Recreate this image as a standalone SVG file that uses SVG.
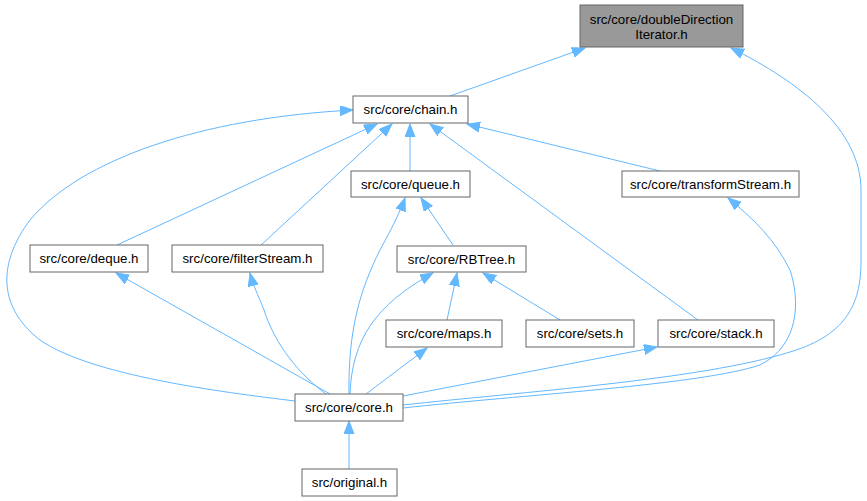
<svg xmlns="http://www.w3.org/2000/svg" width="867" height="501" viewBox="0 0 867 501">
<defs>
<style>
.n rect{fill:#ffffff;stroke:#666666;stroke-width:1}
.n.hl rect{fill:#999999}
.n text{font-family:"Liberation Sans",Arial,sans-serif;font-size:13.3px;fill:#000000;text-anchor:middle}
.e path{fill:none;stroke:#63b8ff;stroke-width:1;marker-end:url(#ah)}
</style>
<marker id="ah" markerUnits="userSpaceOnUse" markerWidth="14" markerHeight="12" refX="13" refY="5" orient="auto" viewBox="0 0 14 12">
<path d="M0,0 L13,5 L0,10 z" fill="#63b8ff" stroke="#63b8ff" stroke-width="1"/>
</marker>
</defs>
<rect width="867" height="501" fill="#ffffff"/>
<g id="edges" class="e">
<path d="M450,96 L585,48"/>
<path d="M403,405 C520,392 700,380 790,352 C850,334 861,300 861,260 L861,190 C861,130 800,82 731,48"/>
<path d="M295,401 C220,392 90,375 40,340 C-5,305 0,260 30,220 C80,160 200,118 353,110"/>
<path d="M117,245 L377,124"/>
<path d="M261,245 L392,124"/>
<path d="M410,171 L410,124"/>
<path d="M698,320 L430,124"/>
<path d="M660,171 L467,124"/>
<path d="M349,394 C348,330 360,290 380,250 C392,228 400,212 405,198"/>
<path d="M453,245 L421,198"/>
<path d="M330,394 L116,273"/>
<path d="M326,394 C300,375 275,345 264,310 C258,295 253,285 250,273"/>
<path d="M350,394 C352,340 375,305 433,273"/>
<path d="M447,320 L457,273"/>
<path d="M560,320 L483,273"/>
<path d="M366,394 L427,348"/>
<path d="M403,396 L657,347"/>
<path d="M403,408 C520,395 700,385 760,365 C800,345 800,300 790,270 C775,240 755,220 728,198"/>
<path d="M349,469 L349,421"/>
</g>
<g id="node-doubleDirectionIterator" class="n hl">
<rect x="580" y="5" width="163" height="42"/>
<text x="661.5" y="24">src/core/doubleDirection</text>
<text x="661.5" y="39">Iterator.h</text>
</g>
<g id="node-chain" class="n">
<rect x="353" y="96" width="115" height="27"/>
<text x="410.5" y="114">src/core/chain.h</text>
</g>
<g id="node-queue" class="n">
<rect x="351" y="171" width="119" height="26"/>
<text x="410.5" y="188.5">src/core/queue.h</text>
</g>
<g id="node-transformStream" class="n">
<rect x="622" y="171" width="177" height="26"/>
<text x="710.5" y="188.5">src/core/transformStream.h</text>
</g>
<g id="node-deque" class="n">
<rect x="30" y="245" width="118" height="27"/>
<text x="89" y="263">src/core/deque.h</text>
</g>
<g id="node-filterStream" class="n">
<rect x="172" y="245" width="151" height="27"/>
<text x="247.5" y="263">src/core/filterStream.h</text>
</g>
<g id="node-RBTree" class="n">
<rect x="397" y="246" width="129" height="26"/>
<text x="461.5" y="263.5">src/core/RBTree.h</text>
</g>
<g id="node-maps" class="n">
<rect x="386" y="320" width="116" height="27"/>
<text x="444" y="338">src/core/maps.h</text>
</g>
<g id="node-sets" class="n">
<rect x="526" y="320" width="108" height="27"/>
<text x="580" y="338">src/core/sets.h</text>
</g>
<g id="node-stack" class="n">
<rect x="658" y="320" width="116" height="27"/>
<text x="716" y="338">src/core/stack.h</text>
</g>
<g id="node-core" class="n">
<rect x="295" y="394" width="108" height="27"/>
<text x="349" y="412">src/core/core.h</text>
</g>
<g id="node-original" class="n">
<rect x="302" y="469" width="95" height="27"/>
<text x="349.5" y="487">src/original.h</text>
</g>
</svg>
